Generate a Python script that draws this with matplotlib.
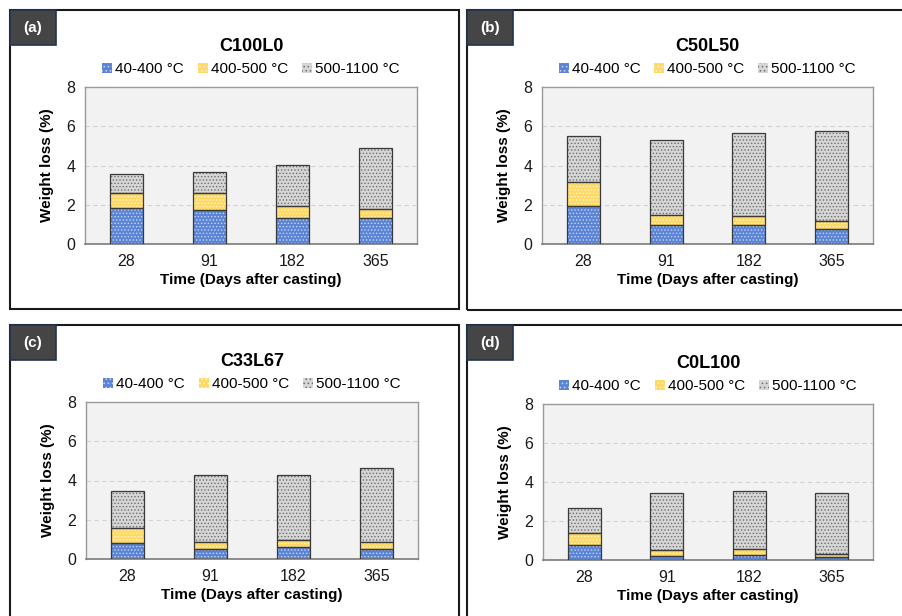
import numpy as np
import matplotlib
matplotlib.use("Agg")
import matplotlib.pyplot as plt
from matplotlib.patches import Rectangle, Patch

plt.rcParams['font.family'] = ['Liberation Sans', 'DejaVu Sans']
plt.rcParams['hatch.linewidth'] = 0.6

days = ['28', '91', '182', '365']
ranges = ['40-400 °C', '400-500 °C', '500-1100 °C']
mixes = ['C100L0', 'C50L50', 'C33L67', 'C0L100']
tags = ['(a)', '(b)', '(c)', '(d)']

# weight loss (%) for each temperature range, per mix
c100l0_low = [1.81, 1.72, 1.35, 1.35]
c100l0_mid = [0.77, 0.86, 0.60, 0.41]
c100l0_high = [1.00, 1.09, 2.09, 3.15]

c50l50_low = [1.93, 0.99, 0.96, 0.78]
c50l50_mid = [1.24, 0.49, 0.49, 0.40]
c50l50_high = [2.31, 3.81, 4.23, 4.57]

c33l67_low = [0.83, 0.53, 0.63, 0.53]
c33l67_mid = [0.75, 0.35, 0.32, 0.34]
c33l67_high = [1.90, 3.42, 3.35, 3.77]

c0l100_low = [0.77, 0.22, 0.24, 0.15]
c0l100_mid = [0.63, 0.28, 0.31, 0.14]
c0l100_high = [1.29, 2.94, 2.98, 3.15]

data = [
    (c100l0_low, c100l0_mid, c100l0_high),
    (c50l50_low, c50l50_mid, c50l50_high),
    (c33l67_low, c33l67_mid, c33l67_high),
    (c0l100_low, c0l100_mid, c0l100_high),
]

faces = ['#5b84d6', '#ffd966', '#d6d6d6']
hatch_cols = ['#c9d7f3', '#fff4cc', '#6e6e6e']

W, H = 903, 616
fig = plt.figure(figsize=(W / 100, H / 100), dpi=100)


def fx(px):
    return px / W


def fy(py):
    return 1 - py / H


# panel frames (pixel left, top, right, bottom)
frames = [(10, 10, 459, 309), (467, 10, 905, 310), (10, 325, 459, 620), (467, 325, 905, 620)]
# axes (pixel left, top, right, bottom)
boxes = [(85, 87, 417, 244), (542, 87, 873, 244), (86, 402, 418, 559), (543, 404, 873, 560)]

for k in range(4):
    l, t, r, b = frames[k]
    fig.patches.append(Rectangle((fx(l), fy(b)), fx(r - l), (b - t) / H, transform=fig.transFigure,
                                 fill=False, edgecolor='#1a1a1a', linewidth=1.5, zorder=0))
    fig.patches.append(Rectangle((fx(l), fy(t + 35)), fx(46), 35 / H, transform=fig.transFigure,
                                 facecolor='#454545', edgecolor='#1f3350', linewidth=1.2, zorder=1))
    fig.text(fx(l + 23), fy(t + 18), tags[k], color='white', fontsize=11, fontweight='bold',
             ha='center', va='center')

    al, at, ar, ab = boxes[k]
    ax = fig.add_axes([fx(al), fy(ab), fx(ar - al), (ab - at) / H])
    ax.set_facecolor('#f2f2f2')
    x = np.arange(len(days))
    bottom = np.zeros(len(days))
    for j, vals in enumerate(data[k]):
        vals = np.array(vals)
        plt.rcParams['hatch.color'] = hatch_cols[j]
        ax.bar(x, vals, 0.4, bottom=bottom, color=faces[j], hatch='.....',
               edgecolor=hatch_cols[j], linewidth=0, zorder=2)
        ax.bar(x, vals, 0.4, bottom=bottom, fill=False, edgecolor='#3a3a3a', linewidth=0.9, zorder=3)
        bottom += vals
    ax.set_xlim(-0.5, 3.5)
    ax.set_ylim(0, 8)
    ax.set_yticks([0, 2, 4, 6, 8])
    ax.set_xticks(x)
    ax.set_xticklabels(days)
    ax.tick_params(length=0, labelsize=11.5, colors='#1a1a1a', pad=7)
    for yv in [2, 4, 6]:
        ax.axhline(yv, color='#d4d4d4', linestyle=(0, (4, 3)), linewidth=0.8, zorder=1)
    for s in ['top', 'right', 'left']:
        ax.spines[s].set_color('#9a9a9a')
        ax.spines[s].set_linewidth(1.0)
    ax.spines['bottom'].set_color('#7a7a7a')
    ax.spines['bottom'].set_linewidth(1.2)
    ax.set_xlabel('Time (Days after casting)', fontsize=11, fontweight='bold', labelpad=3)
    ax.set_ylabel('Weight loss (%)', fontsize=11, fontweight='bold', labelpad=9)
    ax.set_title(mixes[k], fontsize=13, fontweight='bold', pad=26)

    handles = [Patch(facecolor=faces[j], edgecolor=hatch_cols[j], hatch='....', linewidth=0)
               for j in range(3)]
    ax.legend(handles, ranges, ncol=3, loc='lower center', bbox_to_anchor=(0.5, 1.0),
              frameon=False, fontsize=11, handlelength=0.65, handleheight=0.65,
              handletextpad=0.2, columnspacing=0.9, borderaxespad=0.3)

fig.savefig('out.png', dpi=100)
